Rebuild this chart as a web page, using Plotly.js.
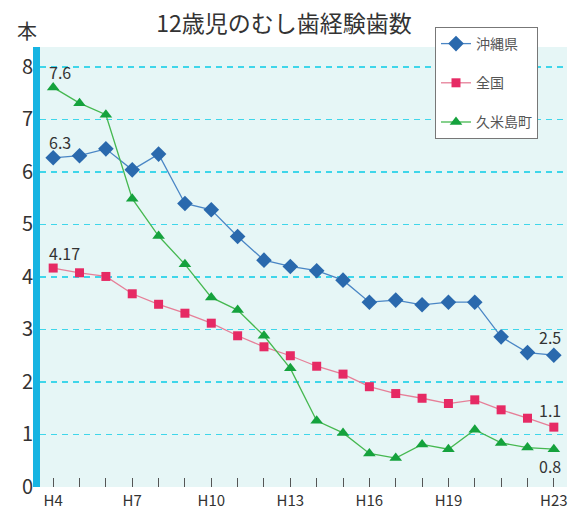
<!DOCTYPE html>
<html><head><meta charset="utf-8">
<script src="https://cdn.plot.ly/plotly-3.0.1.min.js"></script>
<style>body{margin:0;background:#fff}#c{width:587px;height:523px}</style>
</head><body><div id="c"></div>
<script>
const years = ["H4","H5","H6","H7","H8","H9","H10","H11","H12","H13","H14","H15","H16","H17","H18","H19","H20","H21","H22","H23"];
const tickLabels = ["H4","","","H7","","","H10","","","H13","","","H16","","","H19","","","","H23"];
const okinawa = [6.27,6.31,6.44,6.04,6.34,5.40,5.28,4.77,4.32,4.20,4.12,3.94,3.52,3.56,3.47,3.52,3.52,2.86,2.56,2.51];
const zenkoku = [4.17,4.08,4.01,3.68,3.48,3.31,3.12,2.88,2.67,2.50,2.30,2.15,1.91,1.78,1.69,1.59,1.66,1.47,1.31,1.14];
const kumejima = [7.61,7.31,7.09,5.49,4.78,4.24,3.61,3.37,2.88,2.26,1.26,1.03,0.64,0.55,0.81,0.72,1.09,0.84,0.75,0.72];
const seriesNames = ["沖縄県","全国","久米島町"];
const titleText = "12歳児のむし歯経験歯数";
const unitText = "本";

const font = "'Noto Sans CJK JP', 'Noto Sans', sans-serif";
const traces = [
  {x: years, y: okinawa, name: seriesNames[0], legendgroup: "a", mode: "lines+markers",
   line: {color: "#4a86c5", width: 1.3}, marker: {symbol: "diamond", size: 12, color: "#2a69ad"}},
  {x: years, y: zenkoku, name: seriesNames[1], legendgroup: "b", mode: "lines+markers",
   line: {color: "#e67f98", width: 1.3}, marker: {symbol: "square", size: 9, color: "#e62a64"}},
  {x: years, y: kumejima, name: seriesNames[2], legendgroup: "c", mode: "lines+markers",
   line: {color: "#45b850", width: 1.3}, marker: {symbol: "triangle-up", size: 11, color: "#15a23d"}}
];
const layout = {
  width: 587, height: 523,
  margin: {l: 40, r: 20, t: 47, b: 36, autoexpand: false},
  paper_bgcolor: "#ffffff", plot_bgcolor: "#e6f6f6",
  font: {family: font, color: "#333", size: 15},
  showlegend: true,
  legend: {x: (435-40)/527, xanchor: "left", y: (487-27)/440, yanchor: "top",
    bgcolor: "#ffffff", bordercolor: "#777", borderwidth: 1,
    font: {size: 14, color: "#555", family: font}, tracegroupgap: 18, itemwidth: 30},
  title: {text: titleText, x: 284/587, xref: "container", xanchor: "center", y: 1 - 24/523, yanchor: "middle",
    font: {size: 23, color: "#333", family: font}},
  xaxis: {type: "category", range: [-0.5, 19.5], tickvals: years, ticktext: tickLabels,
    ticks: "inside", ticklen: 9, tickcolor: "#555", tickwidth: 1, ticklabelstandoff: 3,
    showgrid: false, zeroline: false, showline: false, fixedrange: true,
    tickfont: {size: 15, color: "#333"}},
  yaxis: {range: [0, 8.38], dtick: 1, tick0: 0, showgrid: true, gridcolor: "#3fd6ea", gridwidth: 1.3,
    griddash: "6px,5px", zeroline: false, showline: false, ticks: "", ticklabelstandoff: 6,
    tickfont: {size: 20, color: "#333"}},
  shapes: [
    {type: "rect", xref: "paper", yref: "paper", x0: -7/527, x1: 0, y0: 0, y1: 1,
     fillcolor: "#16b4e2", line: {width: 0}, layer: "above"}
  ],
  annotations: [
    {text: unitText, xref: "paper", yref: "paper", x: -13/527, y: 1 + 16/440, showarrow: false, xanchor: "center", yanchor: "middle", font: {size: 20, color: "#333"}},
    {text: "7.6", x: "H4", y: kumejima[0], yshift: 15, xshift: -6, xanchor: "left", yanchor: "middle", showarrow: false, font: {size: 16, color: "#333"}},
    {text: "6.3", x: "H4", y: okinawa[0], yshift: 16, xshift: -6, xanchor: "left", yanchor: "middle", showarrow: false, font: {size: 16, color: "#333"}},
    {text: "4.17", x: "H4", y: zenkoku[0], yshift: 15, xshift: -6, xanchor: "left", yanchor: "middle", showarrow: false, font: {size: 16, color: "#333"}},
    {text: "2.5", x: "H23", y: okinawa[19], yshift: 18, xshift: 9, xanchor: "right", yanchor: "middle", showarrow: false, font: {size: 16, color: "#333"}},
    {text: "1.1", x: "H23", y: zenkoku[19], yshift: 17, xshift: 9, xanchor: "right", yanchor: "middle", showarrow: false, font: {size: 16, color: "#333"}},
    {text: "0.8", x: "H23", y: kumejima[19], yshift: -17, xshift: 9, xanchor: "right", yanchor: "middle", showarrow: false, font: {size: 16, color: "#333"}}
  ]
};
Plotly.newPlot("c", traces, layout, {displayModeBar: false, staticPlot: true});
</script></body></html>
